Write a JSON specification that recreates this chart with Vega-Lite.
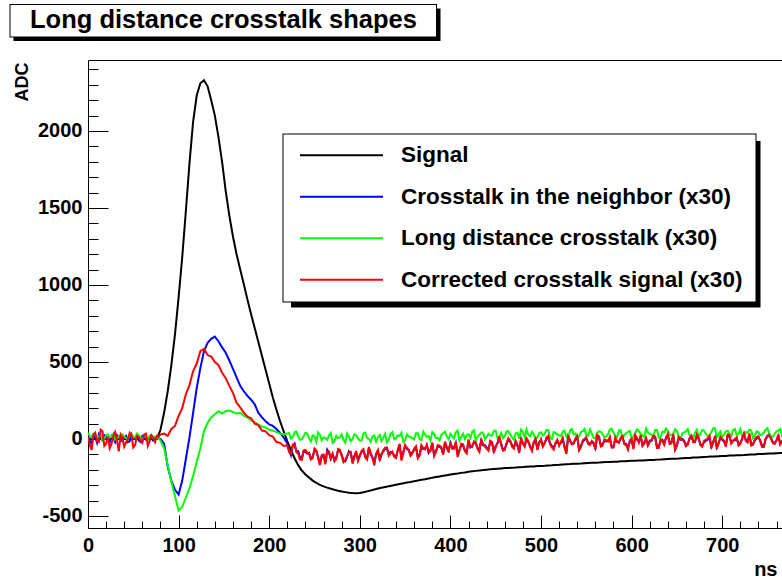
{
 "$schema": "https://vega.github.io/schema/vega-lite/v6.json",
 "width": 694, "height": 468,
 "autosize": {"type": "none"},
 "padding": {"left": 88, "top": 60, "right": 0, "bottom": 49},
 "background": "white",
 "config": {"view": {"stroke": null}, "font": "Liberation Sans"},
 "title": {"text": "Long distance crosstalk shapes", "anchor": "start", "frame": "group", "orient": "top", "dx": -58, "offset": -54.5, "baseline": "alphabetic", "font": "Liberation Sans", "fontSize": 25.5, "fontWeight": "bold", "color": "black"},
 "data": {"values": [
{"t":0,"s":0,"n":20,"l":40,"c":10},{"t":4,"s":0,"n":-30,"l":10,"c":-70},{"t":8,"s":0,"n":10,"l":30,"c":40},{"t":12,"s":0,"n":30,"l":20,"c":-20},
{"t":16,"s":0,"n":-10,"l":-10,"c":50},{"t":20,"s":0,"n":20,"l":25,"c":-30},{"t":24,"s":0,"n":-20,"l":10,"c":-60},{"t":28,"s":0,"n":5,"l":35,"c":20},
{"t":32,"s":0,"n":25,"l":0,"c":-10},{"t":36,"s":0,"n":-15,"l":20,"c":30},{"t":40,"s":0,"n":10,"l":15,"c":-50},{"t":44,"s":0,"n":-20,"l":-5,"c":0},
{"t":48,"s":0,"n":30,"l":30,"c":25},{"t":52,"s":0,"n":0,"l":10,"c":-40},{"t":56,"s":0,"n":-10,"l":25,"c":15},{"t":60,"s":0,"n":20,"l":0,"c":-25},
{"t":64,"s":0,"n":-5,"l":15,"c":35},{"t":68,"s":0,"n":15,"l":20,"c":-15},{"t":72,"s":0,"n":-10,"l":5,"c":10},{"t":76,"s":0,"n":10,"l":10,"c":20},
{"t":80,"s":60,"n":0,"l":-10,"c":30},
{"t":84,"s":170,"n":-30,"l":-60,"c":35},{"t":88,"s":310,"n":-180,"l":-170,"c":20},{"t":92,"s":480,"n":-270,"l":-280,"c":65},{"t":96,"s":680,"n":-330,"l":-370,"c":85},
{"t":100,"s":920,"n":-360,"l":-465,"c":150},{"t":104,"s":1180,"n":-270,"l":-440,"c":200},{"t":108,"s":1480,"n":-130,"l":-380,"c":290},{"t":112,"s":1790,"n":10,"l":-320,"c":350},
{"t":116,"s":2060,"n":170,"l":-240,"c":440},{"t":120,"s":2230,"n":330,"l":-150,"c":490},{"t":124,"s":2310,"n":460,"l":-60,"c":570},{"t":128,"s":2330,"n":570,"l":50,"c":585},
{"t":132,"s":2290,"n":625,"l":105,"c":545},{"t":136,"s":2200,"n":650,"l":140,"c":535},{"t":140,"s":2100,"n":665,"l":160,"c":500},{"t":144,"s":1960,"n":635,"l":180,"c":480},
{"t":148,"s":1800,"n":595,"l":165,"c":430},{"t":152,"s":1610,"n":560,"l":180,"c":395},{"t":156,"s":1450,"n":510,"l":185,"c":345},{"t":160,"s":1315,"n":455,"l":175,"c":300},
{"t":164,"s":1200,"n":400,"l":165,"c":235},{"t":168,"s":1100,"n":345,"l":170,"c":205},{"t":172,"s":1005,"n":310,"l":150,"c":170},{"t":176,"s":905,"n":280,"l":140,"c":145},
{"t":180,"s":810,"n":255,"l":120,"c":135},{"t":184,"s":720,"n":225,"l":110,"c":100},{"t":188,"s":630,"n":170,"l":95,"c":90},{"t":192,"s":540,"n":140,"l":80,"c":55},
{"t":196,"s":450,"n":115,"l":75,"c":50},{"t":200,"s":360,"n":95,"l":60,"c":25},{"t":204,"s":270,"n":85,"l":55,"c":15},{"t":208,"s":190,"n":65,"l":45,"c":-20},
{"t":212,"s":115,"n":40,"l":35,"c":-25},{"t":216,"s":50,"n":10,"l":30,"c":-45},
{"t":220,"s":-15,"n":-30,"l":35,"c":-40},{"t":224,"s":-70,"n":-105,"l":2,"c":-95},{"t":228,"s":-125,"n":-30,"l":44,"c":-35},{"t":232,"s":-170,"n":-80,"l":16,"c":-95},
{"t":236,"s":-205,"n":-125,"l":-2,"c":-136},{"t":240,"s":-230,"n":-85,"l":40,"c":-71},{"t":244,"s":-250,"n":-90,"l":4,"c":-97},{"t":248,"s":-270,"n":-118,"l":23,"c":-125},
{"t":252,"s":-285,"n":-80,"l":-18,"c":-73},{"t":256,"s":-298,"n":-160,"l":26,"c":-170},{"t":260,"s":-308,"n":-110,"l":10,"c":-100},{"t":264,"s":-316,"n":-70,"l":-5,"c":-80},
{"t":268,"s":-323,"n":-130,"l":40,"c":-125},{"t":272,"s":-330,"n":-135,"l":-15,"c":-145},{"t":276,"s":-336,"n":-75,"l":5,"c":-65},{"t":280,"s":-341,"n":-100,"l":30,"c":-110},
{"t":284,"s":-345,"n":-145,"l":-25,"c":-135},{"t":288,"s":-349,"n":-80,"l":15,"c":-90},{"t":292,"s":-351,"n":-150,"l":0,"c":-160},{"t":296,"s":-352,"n":-90,"l":25,"c":-79},
{"t":300,"s":-350,"n":-105,"l":-10,"c":-113},{"t":304,"s":-346,"n":-75,"l":36,"c":-66},{"t":308,"s":-340,"n":-125,"l":6,"c":-134},{"t":312,"s":-334,"n":-100,"l":-19,"c":-92},
{"t":316,"s":-328,"n":-155,"l":22,"c":-169},{"t":320,"s":-322,"n":-80,"l":12,"c":-72},{"t":324,"s":-317,"n":-95,"l":-13,"c":-104},{"t":328,"s":-312,"n":-65,"l":33,"c":-57},
{"t":332,"s":-307,"n":-100,"l":-2,"c":-109},{"t":336,"s":-302,"n":-90,"l":44,"c":-82},{"t":340,"s":-297,"n":-115,"l":4,"c":-124},{"t":344,"s":-292,"n":-40,"l":19,"c":-32},
{"t":348,"s":-288,"n":-85,"l":-20,"c":-94},{"t":352,"s":-283,"n":-65,"l":30,"c":-57},{"t":356,"s":-279,"n":-100,"l":11,"c":-110},{"t":360,"s":-274,"n":-70,"l":-3,"c":-63},
{"t":364,"s":-270,"n":-115,"l":37,"c":-126},{"t":368,"s":-265,"n":-50,"l":-7,"c":-39},{"t":372,"s":-261,"n":-60,"l":29,"c":-67},{"t":376,"s":-256,"n":-90,"l":19,"c":-85},
{"t":380,"s":-251,"n":-30,"l":45,"c":-23},{"t":384,"s":-247,"n":-80,"l":6,"c":-86},{"t":388,"s":-243,"n":-50,"l":-9,"c":-44},{"t":392,"s":-239,"n":-95,"l":37,"c":-103},
{"t":396,"s":-235,"n":-60,"l":18,"c":-51},{"t":400,"s":-231,"n":-25,"l":33,"c":-20},{"t":404,"s":-227,"n":-55,"l":3,"c":-64},{"t":408,"s":-224,"n":-105,"l":54,"c":-117},
{"t":412,"s":-220,"n":-40,"l":14,"c":-31},{"t":416,"s":-217,"n":-75,"l":0,"c":-80},{"t":420,"s":-213,"n":-10,"l":30,"c":-3},{"t":424,"s":-210,"n":-45,"l":46,"c":-52},
{"t":428,"s":-207,"n":-30,"l":-9,"c":-21},{"t":432,"s":-204,"n":-75,"l":27,"c":-84},{"t":436,"s":-202,"n":-40,"l":42,"c":-33},{"t":440,"s":-199,"n":-55,"l":13,"c":-62},
{"t":444,"s":-197,"n":-20,"l":23,"c":-11},{"t":448,"s":-195,"n":-80,"l":54,"c":-89},{"t":452,"s":-193,"n":-30,"l":4,"c":-23},{"t":456,"s":-191,"n":-30,"l":39,"c":-37},
{"t":460,"s":-189,"n":-65,"l":20,"c":-71},{"t":464,"s":-188,"n":-5,"l":50,"c":5},{"t":468,"s":-186,"n":-40,"l":10,"c":-49},{"t":472,"s":-185,"n":-20,"l":36,"c":-13},
{"t":476,"s":-183,"n":-80,"l":1,"c":-92},{"t":480,"s":-182,"n":-30,"l":46,"c":-26},{"t":484,"s":-180,"n":0,"l":62,"c":5},{"t":488,"s":-179,"n":-45,"l":17,"c":-54},
{"t":492,"s":-178,"n":-25,"l":27,"c":-18},{"t":496,"s":-176,"n":-65,"l":8,"c":-72},{"t":500,"s":-175,"n":-10,"l":43,"c":-1},{"t":504,"s":-174,"n":-25,"l":33,"c":-30},
{"t":508,"s":-172,"n":10,"l":58,"c":20},{"t":512,"s":-171,"n":-45,"l":-1,"c":-54},{"t":516,"s":-169,"n":-30,"l":39,"c":-24},{"t":520,"s":-168,"n":-35,"l":24,"c":-43},
{"t":524,"s":-166,"n":0,"l":49,"c":8},{"t":528,"s":-164,"n":-85,"l":15,"c":-97},{"t":532,"s":-163,"n":-15,"l":55,"c":-6},{"t":536,"s":-161,"n":-25,"l":30,"c":-31},
{"t":540,"s":-160,"n":10,"l":10,"c":20},{"t":544,"s":-159,"n":-45,"l":45,"c":-55},{"t":548,"s":-157,"n":-5,"l":65,"c":1},{"t":552,"s":-156,"n":-25,"l":21,"c":-33},
{"t":556,"s":-155,"n":-20,"l":36,"c":-13},{"t":560,"s":-154,"n":-60,"l":6,"c":-68},{"t":564,"s":-153,"n":10,"l":51,"c":18},{"t":568,"s":-151,"n":-35,"l":31,"c":-42},
{"t":572,"s":-150,"n":-15,"l":16,"c":-7},{"t":576,"s":-149,"n":5,"l":61,"c":14},{"t":580,"s":-148,"n":-50,"l":41,"c":-56},{"t":584,"s":-147,"n":-20,"l":12,"c":-16},
{"t":588,"s":-145,"n":0,"l":57,"c":10},{"t":592,"s":-144,"n":-30,"l":27,"c":-35},{"t":596,"s":-143,"n":-60,"l":47,"c":-70},{"t":600,"s":-142,"n":-10,"l":2,"c":0},
{"t":604,"s":-141,"n":15,"l":37,"c":25},{"t":608,"s":-140,"n":-15,"l":52,"c":-24},{"t":612,"s":-139,"n":-40,"l":22,"c":-44},{"t":616,"s":-138,"n":0,"l":67,"c":6},
{"t":620,"s":-137,"n":-10,"l":33,"c":-19},{"t":624,"s":-136,"n":15,"l":18,"c":21},{"t":628,"s":-134,"n":-50,"l":58,"c":-58},{"t":632,"s":-133,"n":-10,"l":8,"c":-3},
{"t":636,"s":-131,"n":-30,"l":43,"c":-38},{"t":640,"s":-130,"n":25,"l":53,"c":32},{"t":644,"s":-129,"n":-20,"l":28,"c":-28},{"t":648,"s":-128,"n":-65,"l":63,"c":-72},
{"t":652,"s":-127,"n":5,"l":13,"c":13},{"t":656,"s":-125,"n":0,"l":38,"c":-7},{"t":660,"s":-124,"n":-40,"l":49,"c":-47},{"t":664,"s":-123,"n":0,"l":24,"c":8},
{"t":668,"s":-121,"n":-15,"l":4,"c":-21},{"t":672,"s":-120,"n":20,"l":59,"c":29},{"t":676,"s":-118,"n":-35,"l":34,"c":-41},{"t":680,"s":-117,"n":-20,"l":54,"c":-11},
{"t":684,"s":-116,"n":-5,"l":19,"c":4},{"t":688,"s":-114,"n":-50,"l":44,"c":-60},{"t":692,"s":-113,"n":10,"l":69,"c":20},{"t":696,"s":-112,"n":-25,"l":29,"c":-30},
{"t":700,"s":-111,"n":-5,"l":14,"c":0},{"t":704,"s":-110,"n":-40,"l":49,"c":-50},{"t":708,"s":-108,"n":15,"l":34,"c":25},{"t":712,"s":-107,"n":-10,"l":59,"c":-14},
{"t":716,"s":-106,"n":5,"l":24,"c":11},{"t":720,"s":-105,"n":-25,"l":64,"c":-34},{"t":724,"s":-104,"n":30,"l":10,"c":37},{"t":728,"s":-102,"n":-15,"l":40,"c":-23},
{"t":732,"s":-101,"n":-35,"l":55,"c":-43},{"t":736,"s":-100,"n":-10,"l":20,"c":-3},{"t":740,"s":-98,"n":10,"l":45,"c":17},{"t":744,"s":-97,"n":-45,"l":30,"c":-52},
{"t":748,"s":-96,"n":0,"l":60,"c":3},{"t":752,"s":-95,"n":35,"l":35,"c":23},{"t":756,"s":-94,"n":-20,"l":15,"c":-27},{"t":760,"s":-92,"n":-10,"l":50,"c":-6},
{"t":764,"s":-91,"n":-30,"l":65,"c":-36},{"t":768,"s":-90,"n":0,"l":25,"c":9},{"t":772,"s":-89,"n":25,"l":40,"c":34},
{"t":2,"n":-10,"l":20,"c":-40},{"t":6,"n":15,"l":35,"c":25},{"t":10,"n":-25,"l":5,"c":-15},{"t":14,"n":5,"l":25,"c":60},{"t":18,"n":25,"l":0,"c":-45},
{"t":22,"n":-5,"l":30,"c":15},{"t":26,"n":20,"l":15,"c":-30},{"t":30,"n":-20,"l":-5,"c":45},{"t":34,"n":10,"l":20,"c":-80},{"t":38,"n":-10,"l":30,"c":10},
{"t":42,"n":20,"l":5,"c":-20},{"t":46,"n":-15,"l":25,"c":40},{"t":50,"n":5,"l":15,"c":-55},{"t":54,"n":25,"l":35,"c":20},{"t":58,"n":-20,"l":5,"c":-10},
{"t":62,"n":10,"l":20,"c":30},{"t":66,"n":-5,"l":0,"c":-45},{"t":70,"n":20,"l":25,"c":25},{"t":74,"n":0,"l":15,"c":-20},{"t":78,"n":5,"l":5,"c":15},
{"t":222,"n":-75,"l":39,"c":-85},{"t":226,"n":-45,"l":10,"c":-35},{"t":230,"n":-80,"l":48,"c":-85},{"t":234,"n":-120,"l":-5,"c":-133},{"t":238,"n":-80,"l":17,"c":-74},
{"t":242,"n":-95,"l":35,"c":-89},{"t":246,"n":-125,"l":-16,"c":-134},{"t":250,"n":-70,"l":18,"c":-62},{"t":254,"n":-115,"l":42,"c":-124},{"t":258,"n":-112,"l":-9,"c":-105},
{"t":262,"n":-155,"l":5,"c":-165},{"t":266,"n":-90,"l":25,"c":-80},{"t":270,"n":-100,"l":-25,"c":-95},{"t":274,"n":-120,"l":20,"c":-130},{"t":278,"n":-80,"l":10,"c":-70},
{"t":282,"n":-140,"l":-5,"c":-150},{"t":286,"n":-115,"l":35,"c":-110},{"t":290,"n":-90,"l":-15,"c":-84},{"t":294,"n":-110,"l":30,"c":-119},{"t":298,"n":-135,"l":5,"c":-143},
{"t":302,"n":-85,"l":-10,"c":-77},{"t":306,"n":-112,"l":41,"c":-120},{"t":310,"n":-60,"l":1,"c":-53},{"t":314,"n":-118,"l":17,"c":-126},{"t":318,"n":-100,"l":-18,"c":-93},
{"t":322,"n":-130,"l":27,"c":-141},{"t":326,"n":-80,"l":8,"c":-73},{"t":330,"n":-62,"l":-22,"c":-55},{"t":334,"n":-85,"l":33,"c":-93},{"t":338,"n":-108,"l":-1,"c":-116},
{"t":342,"n":-75,"l":24,"c":-68},{"t":346,"n":-130,"l":40,"c":-140},{"t":350,"n":-45,"l":-10,"c":-38},{"t":354,"n":-70,"l":16,"c":-76},{"t":358,"n":-85,"l":6,"c":-94},
{"t":362,"n":-55,"l":37,"c":-47},{"t":366,"n":-100,"l":-2,"c":-110},{"t":370,"n":-65,"l":48,"c":-58},{"t":374,"n":-45,"l":14,"c":-36},{"t":378,"n":-72,"l":-10,"c":-79},
{"t":382,"n":-100,"l":35,"c":-112},{"t":386,"n":-48,"l":6,"c":-40},{"t":390,"n":-60,"l":27,"c":-53},{"t":394,"n":-25,"l":47,"c":-17},{"t":398,"n":-78,"l":-2,"c":-86},
{"t":402,"n":-58,"l":18,"c":-64},{"t":406,"n":-25,"l":44,"c":-18},{"t":410,"n":-70,"l":-11,"c":-77},{"t":414,"n":-42,"l":35,"c":-35},{"t":418,"n":-85,"l":25,"c":-94},
{"t":422,"n":-55,"l":6,"c":-48},{"t":426,"n":-22,"l":56,"c":-16},{"t":430,"n":-58,"l":17,"c":-65},{"t":434,"n":-8,"l":42,"c":1},{"t":438,"n":-40,"l":-2,"c":-48},
{"t":442,"n":-70,"l":33,"c":-76},{"t":446,"n":-28,"l":24,"c":-20},{"t":450,"n":-45,"l":54,"c":-53},{"t":454,"n":8,"l":14,"c":18},{"t":458,"n":-68,"l":5,"c":-76},
{"t":462,"n":-32,"l":50,"c":-25},{"t":466,"n":-15,"l":30,"c":-9},{"t":470,"n":-55,"l":-4,"c":-63},{"t":474,"n":-45,"l":41,"c":-37},{"t":478,"n":0,"l":61,"c":9},
{"t":482,"n":-42,"l":11,"c":-50},{"t":486,"n":-20,"l":27,"c":-14},{"t":490,"n":-70,"l":47,"c":-78},{"t":494,"n":-5,"l":2,"c":3},{"t":498,"n":-20,"l":38,"c":-26},
{"t":502,"n":-45,"l":23,"c":-51},{"t":506,"n":0,"l":58,"c":10},{"t":510,"n":-28,"l":8,"c":-35},{"t":514,"n":-60,"l":44,"c":-69},{"t":518,"n":-12,"l":29,"c":-4},
{"t":522,"n":-25,"l":19,"c":-18},{"t":526,"n":-50,"l":54,"c":-57},{"t":530,"n":10,"l":-1,"c":18},{"t":534,"n":-30,"l":65,"c":-36},{"t":538,"n":-5,"l":35,"c":4},
{"t":542,"n":-65,"l":15,"c":-75},{"t":546,"n":-18,"l":50,"c":-10},{"t":550,"n":2,"l":25,"c":11},{"t":554,"n":-30,"l":61,"c":-39},{"t":558,"n":-30,"l":6,"c":-23},
{"t":562,"n":18,"l":41,"c":27},{"t":566,"n":-40,"l":46,"c":-48},{"t":570,"n":-10,"l":11,"c":-2},{"t":574,"n":-10,"l":31,"c":-17},{"t":578,"n":-50,"l":66,"c":-57},
{"t":582,"n":0,"l":21,"c":9},{"t":586,"n":-20,"l":57,"c":-26},{"t":590,"n":10,"l":2,"c":19},{"t":594,"n":-32,"l":37,"c":-40},{"t":598,"n":-18,"l":52,"c":-10},
{"t":602,"n":-55,"l":17,"c":-65},{"t":606,"n":-5,"l":62,"c":5},{"t":610,"n":18,"l":32,"c":26},{"t":614,"n":-22,"l":12,"c":-29},{"t":618,"n":-38,"l":42,"c":-44},
{"t":622,"n":-12,"l":28,"c":-4},{"t":626,"n":8,"l":58,"c":16},{"t":630,"n":-50,"l":8,"c":-58},{"t":634,"n":-5,"l":48,"c":-13},{"t":638,"n":5,"l":68,"c":12},
{"t":642,"n":-25,"l":23,"c":-33},{"t":646,"n":22,"l":33,"c":32},{"t":650,"n":-40,"l":53,"c":-47},{"t":654,"n":-5,"l":3,"c":3},{"t":658,"n":-10,"l":43,"c":-17},
{"t":662,"n":-30,"l":64,"c":-37},{"t":666,"n":15,"l":19,"c":23},{"t":670,"n":-15,"l":39,"c":-21},{"t":674,"n":0,"l":14,"c":9},{"t":678,"n":-42,"l":59,"c":-51},
{"t":682,"n":-12,"l":34,"c":-6},{"t":686,"n":10,"l":24,"c":19},{"t":690,"n":-18,"l":69,"c":-25},{"t":694,"n":-55,"l":9,"c":-65},{"t":698,"n":5,"l":49,"c":15},
{"t":702,"n":-18,"l":29,"c":-10},{"t":706,"n":22,"l":54,"c":30},{"t":710,"n":-22,"l":19,"c":-30},{"t":714,"n":-8,"l":64,"c":1},{"t":718,"n":-35,"l":34,"c":-44},
{"t":722,"n":-2,"l":14,"c":6},{"t":726,"n":-5,"l":45,"c":-13},{"t":730,"n":28,"l":60,"c":37},{"t":734,"n":-30,"l":5,"c":-38},{"t":738,"n":5,"l":50,"c":12},
{"t":742,"n":-10,"l":25,"c":-18},{"t":746,"n":-45,"l":40,"c":-52},{"t":750,"n":15,"l":70,"c":23},{"t":754,"n":5,"l":15,"c":-2},{"t":758,"n":-25,"l":35,"c":-32},
{"t":762,"n":20,"l":55,"c":29},{"t":766,"n":-15,"l":20,"c":-21},{"t":770,"n":-3,"l":60,"c":4}
 ]},
 "transform": [{"fold": ["s", "n", "l", "c"], "as": ["series", "adc"]}, {"filter": "isValid(datum.adc)"}],
 "layer": [
  {
   "transform": [{"filter": "datum.series == 's'"}],
   "mark": {"type": "line", "strokeWidth": 2, "clip": true},
   "encoding": {
    "x": {"field": "t", "type": "quantitative", "scale": {"domain": [0, 766], "nice": false, "zero": false},
      "axis": {"orient": "bottom", "values": [0,100,200,300,400,500,600,700], "tickSize": -13, "tickColor": "black", "domainColor": "black", "grid": false,
        "labelExpr": "'' + datum.value", "labelFont": "Liberation Sans", "labelFontSize": 20, "labelFontWeight": "bold", "labelColor": "black", "labelPadding": 20, "labelFlush": false, "labelOverlap": false,
        "title": "ns", "titleFont": "Liberation Sans", "titleFontSize": 20, "titleFontWeight": "bold", "titleColor": "black", "titleAlign": "right", "titleAnchor": "end", "titleBaseline": "alphabetic", "titleX": 689, "titleY": 47}},
    "y": {"field": "adc", "type": "quantitative", "scale": {"domain": [-578, 2461], "nice": false, "zero": false},
      "axis": {"orient": "left", "values": [-500,0,500,1000,1500,2000], "tickSize": -20, "tickColor": "black", "domainColor": "black", "grid": false,
        "labelExpr": "'' + datum.value", "labelFont": "Liberation Sans", "labelFontSize": 20, "labelFontWeight": "bold", "labelColor": "black", "labelPadding": 26, "labelOverlap": false,
        "title": "ADC", "titleFont": "Liberation Sans", "titleFontSize": 18, "titleFontWeight": "bold", "titleColor": "black", "titleAngle": -90, "titleAlign": "right", "titleBaseline": "alphabetic", "titleX": -61, "titleY": 2}},
    "color": {"field": "series", "type": "nominal", "scale": {"domain": ["s", "n", "l", "c"], "range": ["#000000", "#0000ff", "#00ff00", "#ff0000"]},
      "legend": {"orient": "none", "legendX": 195, "legendY": 84, "title": null, "padding": 0,
        "symbolType": "M-41.5,0H41.5", "symbolSize": 4, "symbolStrokeWidth": 2, "symbolOffset": 47.25, "labelOffset": 48.25,
        "labelFont": "Liberation Sans", "labelFontSize": 22.5, "labelFontWeight": "bold", "labelColor": "black", "rowPadding": 18.5, "labelLimit": 0,
        "labelExpr": "datum.label == 's' ? 'Signal' : datum.label == 'n' ? 'Crosstalk in the neighbor (x30)' : datum.label == 'l' ? 'Long distance crosstalk (x30)' : 'Corrected crosstalk signal (x30)'"}}
   }
  },
  {
   "transform": [{"filter": "datum.series == 'n'"}],
   "mark": {"type": "line", "strokeWidth": 2, "clip": true},
   "encoding": {
    "x": {"field": "t", "type": "quantitative", "axis": null},
    "y": {"field": "adc", "type": "quantitative", "axis": null},
    "color": {"field": "series", "type": "nominal"}
   }
  },
  {
   "transform": [{"filter": "datum.series == 'l'"}],
   "mark": {"type": "line", "strokeWidth": 2, "clip": true},
   "encoding": {
    "x": {"field": "t", "type": "quantitative", "axis": null},
    "y": {"field": "adc", "type": "quantitative", "axis": null},
    "color": {"field": "series", "type": "nominal"}
   }
  },
  {
   "transform": [{"filter": "datum.series == 'c'"}],
   "mark": {"type": "line", "strokeWidth": 2, "clip": true},
   "encoding": {
    "x": {"field": "t", "type": "quantitative", "axis": null},
    "y": {"field": "adc", "type": "quantitative", "axis": null},
    "color": {"field": "series", "type": "nominal"}
   }
  },
  {
   "transform": [{"filter": "datum.series == 's'"}],
   "mark": {"type": "line", "strokeOpacity": 0, "clip": true},
   "encoding": {
    "x": {"field": "t", "type": "quantitative",
      "axis": {"orient": "bottom", "values": [20,40,60,80,120,140,160,180,220,240,260,280,320,340,360,380,420,440,460,480,520,540,560,580,620,640,660,680,720,740,760], "tickSize": -7, "tickColor": "black", "domain": false, "labels": false, "grid": false, "title": null}},
    "y": {"field": "adc", "type": "quantitative",
      "axis": {"orient": "left", "values": [-400,-300,-200,-100,100,200,300,400,600,700,800,900,1100,1200,1300,1400,1600,1700,1800,1900,2100,2200,2300,2400], "tickSize": -10, "tickColor": "black", "domain": false, "labels": false, "grid": false, "title": null}}
   }
  },
  {
   "transform": [{"filter": "datum.series == 's'"}],
   "mark": {"type": "line", "strokeOpacity": 0, "clip": true},
   "encoding": {
    "x": {"field": "t", "type": "quantitative",
      "axis": {"orient": "top", "ticks": false, "labels": false, "domain": true, "domainColor": "black", "grid": false, "title": null}},
    "y": {"field": "adc", "type": "quantitative", "axis": null}
   }
  },
  {
   "transform": [{"filter": "false"}],
   "mark": {"type": "point", "filled": true, "color": "black", "size": 4},
   "encoding": {
    "shape": {"datum": "frame", "type": "nominal",
      "scale": {"range": ["M9.5,4H437V37.5H9.5Z M10.5,5V36.5H436V5Z M437,8.5H440.5V41H13.5V37.5H437Z M282.5,133.5H756.5V302.5H282.5Z M283.5,134.5V301.5H755.5V134.5Z M756.5,141H760.5V307.5H291V302.5H756.5Z"]},
      "legend": {"orient": "none", "legendX": -89, "legendY": -61, "title": null, "padding": 0, "symbolSize": 4, "symbolStrokeWidth": 0, "symbolFillColor": "black", "symbolOpacity": 1, "symbolOffset": 0, "labelFontSize": 2, "labelExpr": "''"}}
   }
  }
 ],
 "resolve": {"axis": {"x": "independent", "y": "independent"}}
}
